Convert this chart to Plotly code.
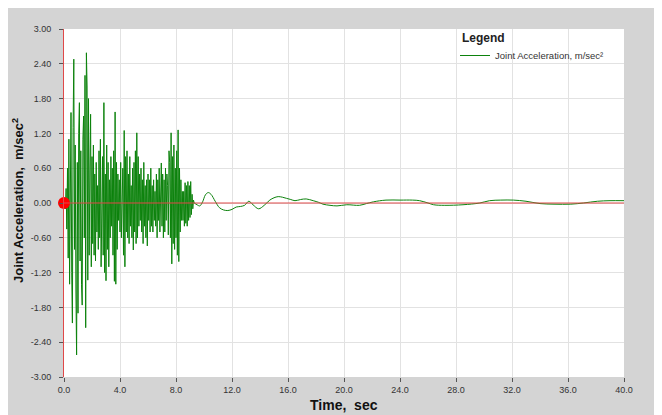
import plotly.graph_objects as go

# ---------------- data ----------------
# noisy part: 0.00 .. 9.30 s, sampled every 0.05 s
noisy_t0 = 0.0
noisy_dt = 0.05
noisy_values = [
    0.00, 0.05, -0.10, 0.25, -0.45, 0.60, -0.95, 1.10, -1.40, 0.90,
    1.56, -1.20, -2.07, 1.30, 2.48, -0.80, 1.00, -1.50, -2.62, 0.70,
    -1.90, 1.20, 1.73, -1.00, 0.90, -1.40, -1.76, 1.10, 1.50, -0.60,
    2.20, -2.15, 2.59, 2.00, -1.33, 1.80, -0.90, 0.60, 1.53, -1.10,
    0.80, -0.70, 1.00, -0.90, 0.50, -1.00, 0.70, -0.50, 0.30, -0.80,
    0.90, -0.60, 1.10, -1.10, 0.60, 0.80, -0.90, 1.73, -1.20, 0.50,
    -1.34, 1.00, -0.80, 0.70, -1.10, 0.40, -0.60, 0.80, -0.40, 0.60,
    -0.90, 0.90, -1.35, 1.57, -1.40, 0.70, -0.80, 0.50, -0.30, 0.40,
    -0.50, 0.70, -0.60, 0.30, 0.60, -0.90, 1.25, -1.10, 0.80, -0.50,
    0.90, -0.60, 0.50, -0.70, 0.80, -0.40, 0.30, -0.60, 0.60, -0.81,
    0.70, -0.50, 0.90, -0.70, 1.21, -0.60, 0.80, -0.40, 0.50, -0.30,
    0.60, -0.50, 0.40, -0.70, 0.70, -0.40, 0.30, -0.60, 0.40, -0.74,
    0.50, -0.30, 0.40, -0.50, 0.60, -0.40, 0.30, -0.50, 0.40, -0.30,
    0.20, -0.40, 0.50, -0.60, 0.40, -0.30, 0.60, -0.50, 0.30, 0.69,
    -0.40, 0.50, -0.60, 0.40, -0.50, 0.60, -0.30, 0.50, 0.30, -0.55,
    0.90, 0.70, -0.60, 1.21, -1.05, 0.80, -0.70, 1.00, -0.80, 0.60,
    -0.60, 0.90, -0.90, 1.26, -1.01, 0.60, -0.50, 0.40, -0.30, 0.20,
    -0.30, 0.20, -0.40, 0.35, -0.35, 0.30, -0.40, 0.37, -0.30, 0.30,
    -0.25, 0.37, -0.20, 0.15, -0.10, 0.05, 0.00,
]
noisy_time = [round(noisy_t0 + i * noisy_dt, 2) for i in range(len(noisy_values))]

# smooth decaying part
smooth_time = [9.30, 9.5, 9.7, 9.9, 10.1, 10.3, 10.5, 10.8, 11.1, 11.4, 11.7, 12.0,
               12.3, 12.6, 12.9, 13.2, 13.5, 13.9, 14.3, 14.7, 15.0, 15.3, 15.6,
               15.9, 16.2, 16.5, 16.9, 17.3, 17.8, 18.2, 18.5, 19.0, 19.5, 20.2,
               21.1, 21.6, 22.1, 23.0, 24.0, 24.9, 25.4, 26.0, 26.4, 27.2, 28.5,
               29.7, 30.4, 31.2, 32.1, 33.0, 34.0, 35.0, 36.2, 37.1, 38.1, 39.0, 40.0]
smooth_values = [0.00, -0.03, -0.05, 0.02, 0.14, 0.18, 0.15, 0.03, -0.08, -0.12, -0.13,
                 -0.11, -0.07, -0.06, -0.04, 0.03, -0.03, -0.10, -0.04, 0.05, 0.09,
                 0.11, 0.10, 0.08, 0.06, 0.04, 0.06, 0.07, 0.04, 0.01, -0.02, -0.04,
                 -0.05, -0.03, -0.04, -0.01, 0.02, 0.05, 0.05, 0.05, 0.04, 0.00, -0.03,
                 -0.04, -0.03, 0.00, 0.04, 0.05, 0.05, 0.03, -0.01, -0.02, -0.02, 0.00,
                 0.03, 0.04, 0.04]

marker_point = [0.0]
marker_value = [0.0]

x_ticks = [0, 4, 8, 12, 16, 20, 24, 28, 32, 36, 40]
y_ticks = [-3.0, -2.4, -1.8, -1.2, -0.6, 0.0, 0.6, 1.2, 1.8, 2.4, 3.0]

series_name = "Joint Acceleration, m/sec²"
legend_title = "Legend"
x_title = "Time,  sec"
y_title = "Joint Acceleration,  m/sec<sup>2</sup>"

# ---------------- figure ----------------
GREEN = "#0c820c"
RED = "#e04848"
GRAY_BG = "#d4d4d4"
FONT = "Liberation Sans, Arial, sans-serif"

# page is offset by the 8px body margin; figure spans to the window edge
W, H = 654, 407
L, R, T, B = 56, 38, 21, 38
pw, ph = W - L - R, H - T - B


def px_x(px):
    return (px - L) / pw


def px_y(py):
    return (H - B - py) / ph


fig = go.Figure()
fig.add_trace(go.Scatter(x=noisy_time, y=noisy_values, mode="lines",
                         line=dict(color=GREEN, width=1), name=series_name,
                         showlegend=True))
fig.add_trace(go.Scatter(x=smooth_time, y=smooth_values, mode="lines",
                         line=dict(color=GREEN, width=1, shape="spline"),
                         showlegend=False))
fig.add_trace(go.Scatter(x=marker_point, y=marker_value, mode="markers",
                         marker=dict(color="#ff0000", size=12), cliponaxis=False,
                         showlegend=False))

shapes = [
    dict(type="line", xref="x", yref="y", x0=x_ticks[0], x1=x_ticks[-1], y0=0, y1=0,
         line=dict(color=RED, width=1), layer="above"),
]

annotations = [
    dict(text=x_title, xref="paper", yref="paper", x=px_x(336), y=px_y(397),
         xanchor="center", yanchor="middle", showarrow=False,
         font=dict(family=FONT, size=14, color="#111111", weight="bold")),
    dict(text=y_title, xref="paper", yref="paper", x=px_x(10), y=px_y(193),
         xanchor="center", yanchor="middle", showarrow=False, textangle=-90,
         font=dict(family=FONT, size=13, color="#111111", weight="bold")),
    dict(text=legend_title, xref="paper", yref="paper", x=px_x(452), y=px_y(30),
         xanchor="left", yanchor="middle", showarrow=False,
         font=dict(family=FONT, size=12, color="#222222", weight="bold")),
]

fig.update_layout(
    width=W, height=H,
    margin=dict(l=L, r=R, t=T, b=B, autoexpand=False),
    paper_bgcolor=GRAY_BG, plot_bgcolor="white",
    font=dict(family=FONT, size=9, color="#333333"),
    shapes=shapes, annotations=annotations,
    legend=dict(x=px_x(447), y=px_y(33), xanchor="left", yanchor="top",
                bgcolor="rgba(0,0,0,0)", borderwidth=0,
                font=dict(family=FONT, size=9.5, color="#333333"),
                tracegroupgap=0),
    xaxis=dict(range=[x_ticks[0], x_ticks[-1]], tickvals=x_ticks,
               ticktext=[f"{v:.1f}" for v in x_ticks],
               showgrid=True, gridcolor="#e2e2e2", gridwidth=1,
               zeroline=False, showline=False,
               ticks="outside", ticklen=4, tickcolor="#555555",
               tickfont=dict(family=FONT, size=9, color="#333333")),
    yaxis=dict(range=[y_ticks[0], y_ticks[-1]], tickvals=y_ticks,
               ticktext=[f"{v:.2f}" for v in y_ticks],
               showgrid=True, gridcolor="#e2e2e2", gridwidth=1,
               zeroline=False, showline=True, linecolor=RED, linewidth=1,
               ticks="outside", ticklen=4, tickcolor="#555555",
               ticklabelstandoff=6,
               tickfont=dict(family=FONT, size=9, color="#333333")),
)

fig.write_html("out.html")
